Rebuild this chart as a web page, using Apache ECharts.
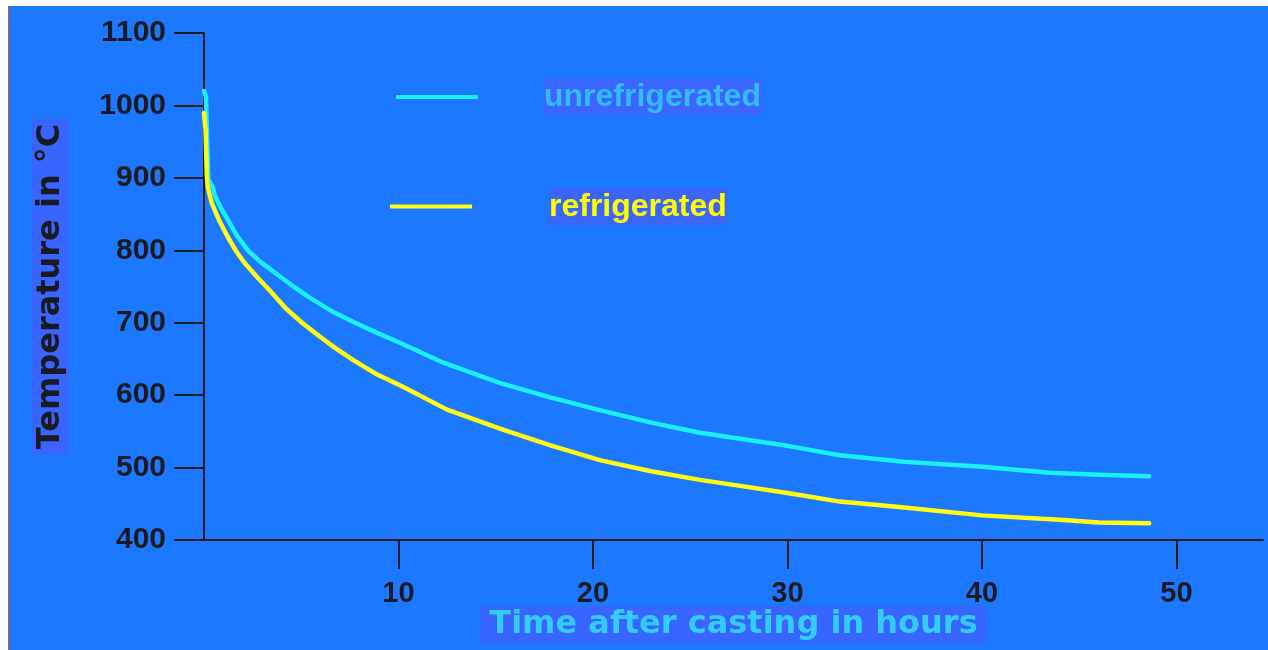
<!DOCTYPE html>
<html>
<head>
<meta charset="utf-8">
<script src="https://cdn.jsdelivr.net/npm/echarts@6/dist/echarts.min.js"></script>
<style>
  html, body { margin: 0; padding: 0; background: #ffffff; width: 1268px; height: 650px; overflow: hidden; }
  #panel { position: absolute; left: 8px; top: 6px; width: 1259px; height: 644px; background: #1c78fe; border-left: 1px solid #e0522a; }
  #chart { position: absolute; left: 0; top: 0; width: 1268px; height: 650px; }
</style>
</head>
<body>
<div id="panel"></div>
<div id="chart"></div>
<script>
// Unrefrigerated (cyan) curve: time in hours, temperature in °C
const timeUnref = [0, 0.1, 0.22, 0.46, 0.55, 0.9, 1.23, 1.7, 2.26, 2.9, 3.65, 4.5, 5.35, 6.5, 7.77, 8.9, 10.1, 12.2, 15.2, 17.8, 20.4, 23, 25.5, 28, 30, 32.7, 36, 40, 43.5, 46, 48.6];
const tempUnref = [1020, 1012, 898, 887, 876, 857, 842, 820, 800, 784, 769, 752, 736, 717, 700, 686, 672, 646, 617, 597, 579, 562, 548, 538, 530, 517, 508, 501, 493, 490, 488];
// Refrigerated (yellow) curve
const timeRef = [0, 0.08, 0.15, 0.2, 0.4, 0.8, 1.23, 1.65, 2.1, 2.8, 3.5, 4.2, 5.04, 5.8, 6.7, 7.7, 8.8, 10.28, 12.5, 15.4, 17.9, 20.4, 23, 25.5, 28, 30, 32.7, 36, 40, 44, 46, 48.6];
const tempRef = [990, 965, 900, 887, 865, 840, 818, 799, 782, 761, 741, 720, 700, 684, 666, 648, 630, 611, 580, 552, 530, 510, 495, 483, 473, 465, 453, 445, 434, 428, 424, 423];
// Axis ticks
const xTicks = [10, 20, 30, 40, 50];
const yMin = 400, yMax = 1100, yStep = 100;
const seriesNames = ['unrefrigerated', 'refrigerated'];
const xTitle = 'Time after casting in hours';
const yTitle = 'Temperature in °C';

const pairs = (xs, ys) => xs.map((x, i) => [x, ys[i]]);

const axisColor = '#1a1a22';
const chart = echarts.init(document.getElementById('chart'), null, { renderer: 'canvas' });
chart.setOption({
  backgroundColor: 'transparent',
  animation: false,
  grid: { left: 204, right: 5, top: 33, bottom: 110, containLabel: false, outerBoundsMode: 'none' },
  legend: [
    {
      data: [seriesNames[0]], left: 396, top: 79, padding: 0,
      icon: 'rect', itemWidth: 82, itemHeight: 4,
      formatter: '{g|}{t|{name}}',
      textStyle: {
        rich: {
          g: { width: 61 },
          t: { color: '#33bbff', fontSize: 32, fontWeight: 'bold', fontFamily: 'Liberation Sans',
               backgroundColor: '#3a66ff', padding: [2, 1, 2, 0], lineHeight: 32 }
        }
      }
    },
    {
      data: [seriesNames[1]], left: 390, top: 188, padding: 0,
      icon: 'rect', itemWidth: 82, itemHeight: 4,
      formatter: '{g|}{t|{name}}',
      textStyle: {
        rich: {
          g: { width: 72 },
          t: { color: '#ffff00', fontSize: 32, fontWeight: 'bold', fontFamily: 'Liberation Sans',
               backgroundColor: '#3a66ff', padding: [3, 1, 2, 0], lineHeight: 32 }
        }
      }
    }
  ],
  xAxis: {
    type: 'value', min: 0, max: 54.45,
    name: xTitle, nameLocation: 'middle', nameGap: 66, nameMoveOverlap: false,
    nameTextStyle: {
      color: '#33ccff', fontSize: 32, fontWeight: 'bold', fontFamily: 'DejaVu Sans',
      backgroundColor: '#3864ff', padding: [3, 9, 2, 9], lineHeight: 32
    },
    axisLine: { show: true, lineStyle: { color: axisColor, width: 2 } },
    axisTick: { show: true, inside: false, length: 29, customValues: xTicks, lineStyle: { color: axisColor, width: 2 } },
    axisLabel: { customValues: xTicks, margin: 39, color: axisColor, fontSize: 29, fontWeight: 'bold', fontFamily: 'Liberation Sans',
                 formatter: v => String(v) },
    splitLine: { show: false }
  },
  yAxis: {
    type: 'value', min: yMin, max: yMax, interval: yStep,
    name: yTitle, nameLocation: 'middle', nameGap: 135, nameRotate: 90, nameMoveOverlap: false,
    nameTextStyle: {
      color: axisColor, fontSize: 32, fontWeight: 'bold', fontFamily: 'DejaVu Sans',
      backgroundColor: '#3864ff', padding: [2, 5], lineHeight: 33
    },
    axisLine: { show: true, lineStyle: { color: axisColor, width: 2 } },
    axisTick: { show: true, inside: false, length: 30, lineStyle: { color: axisColor, width: 2 } },
    axisLabel: { margin: 38, color: axisColor, fontSize: 30, fontWeight: 'bold', fontFamily: 'Liberation Sans',
                 showMinLabel: true, showMaxLabel: true, formatter: v => String(v) },
    splitLine: { show: false }
  },
  series: [
    {
      name: seriesNames[0], type: 'line', data: pairs(timeUnref, tempUnref),
      showSymbol: false, smooth: false,
      color: '#19f0ff', lineStyle: { color: '#19f0ff', width: 4.5, cap: 'round', join: 'round' }, z: 3
    },
    {
      name: seriesNames[1], type: 'line', data: pairs(timeRef, tempRef),
      showSymbol: false, smooth: false,
      color: '#ffff14', lineStyle: { color: '#ffff14', width: 4.5, cap: 'round', join: 'round' }, z: 4
    }
  ]
});
</script>
</body>
</html>
